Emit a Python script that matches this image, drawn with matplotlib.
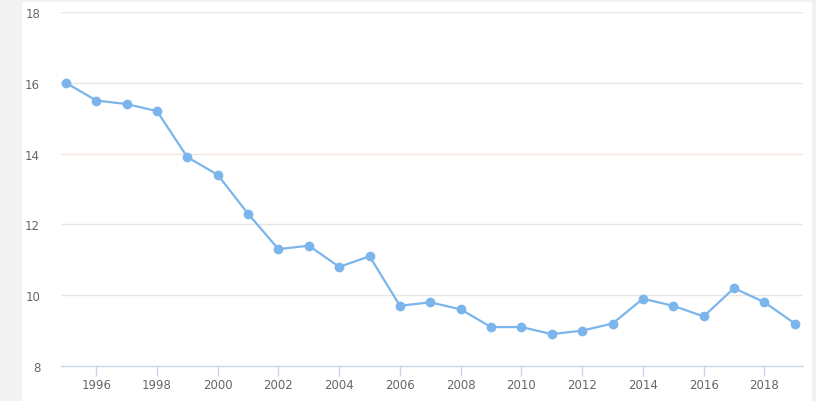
import matplotlib
matplotlib.use("Agg")
import matplotlib.pyplot as plt
from matplotlib.patches import Rectangle

years = [1995, 1996, 1997, 1998, 1999, 2000, 2001, 2002, 2003, 2004, 2005, 2006,
         2007, 2008, 2009, 2010, 2011, 2012, 2013, 2014, 2015, 2016, 2017, 2018, 2019]
values = [16.0, 15.5, 15.4, 15.2, 13.9, 13.4, 12.3, 11.3, 11.4, 10.8, 11.1, 9.7,
          9.8, 9.6, 9.1, 9.1, 8.9, 9.0, 9.2, 9.9, 9.7, 9.4, 10.2, 9.8, 9.2]
xticks = list(range(1996, 2019, 2))
yticks = [8, 10, 12, 14, 16, 18]

W, H = 816, 402
fig = plt.figure(figsize=(W / 100, H / 100), dpi=100, facecolor="#f2f2f2")
# white panel behind the chart
fig.patches.append(Rectangle((22 / W, 0), (812 - 22) / W, (H - 3) / H,
                             transform=fig.transFigure, facecolor="white",
                             edgecolor="none", zorder=-10))

ax = fig.add_axes([61 / W, 35 / H, (803 - 61) / W, 354 / H])
ax.set_facecolor("white")

ax.plot(years, values, color="#7cb5ec", lw=1.6, marker="o", ms=6, zorder=3,
        clip_on=False)

ax.set_xlim(1994.84, 2019.27)
ax.set_ylim(8, 18)
ax.set_xticks(xticks)
ax.set_xticklabels([str(y) for y in xticks])
ax.set_yticks(yticks)

for y in yticks[1:]:
    c = "#f3e4dc" if y == 14 else "#e6e6e6"
    ax.axhline(y, color=c, lw=1, zorder=1)

for s in ["top", "right", "left"]:
    ax.spines[s].set_visible(False)
ax.spines["bottom"].set_color("#ccd6eb")
ax.spines["bottom"].set_linewidth(1)

ax.tick_params(axis="x", length=7, width=1, color="#ccd6eb", labelsize=8.5,
               labelcolor="#666666", pad=2)
ax.tick_params(axis="y", length=0, labelsize=8.5, labelcolor="#666666", pad=15)

plt.savefig("out.png", dpi=100, facecolor=fig.get_facecolor())
